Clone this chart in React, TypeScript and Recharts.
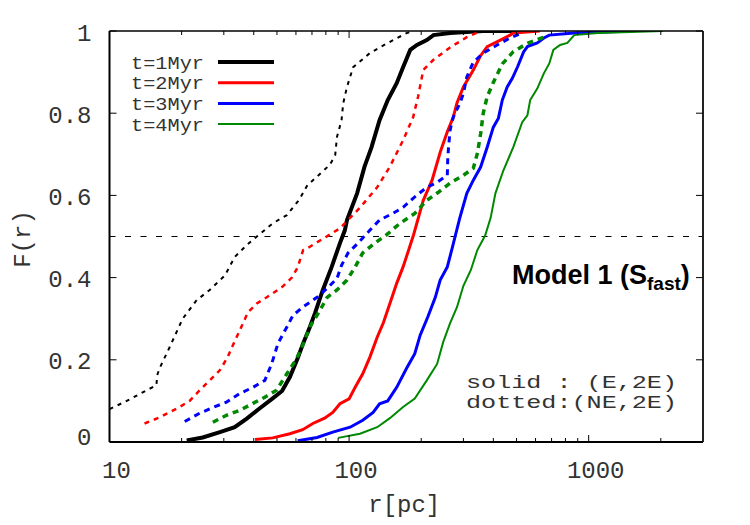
import React from 'react';
import { LineChart, Line, XAxis, YAxis, ReferenceLine, Legend, Customized } from 'recharts';

type P = [number, number];

// t=1Myr, solid (E,2E)
const t1E: P[] = [[21,0.004],[24.5,0.011],[28.9,0.024],[33.3,0.036],[37.4,0.057],[42.4,0.082],[48,0.106],[52.5,0.124],[56.6,0.158],[61,0.204],[64.3,0.24],[68.6,0.28],[72,0.313],[77.7,0.37],[84.6,0.426],[91.6,0.484],[96,0.515],[98,0.54],[108,0.605],[116,0.67],[124,0.717],[134,0.783],[145,0.832],[158,0.873],[168,0.912],[180,0.954],[192,0.966],[211,0.978],[225,0.99],[264,0.995],[363,1.0],[528,1.0]];
// t=2Myr, solid
const t2E: P[] = [[40.5,0.006],[48,0.01],[56.6,0.02],[64,0.03],[70.6,0.045],[79,0.058],[85.5,0.072],[91.6,0.093],[100,0.105],[106,0.133],[114,0.166],[122,0.206],[131,0.255],[139,0.29],[148,0.337],[158,0.386],[168,0.426],[177,0.466],[186,0.505],[204,0.588],[222,0.637],[240,0.705],[257,0.755],[272,0.79],[282,0.825],[300,0.864],[330,0.905],[354,0.94],[377,0.962],[428,0.978],[470,0.99],[485,0.995],[625,1.0]];
// t=3Myr, solid
const t3E: P[] = [[61,0.003],[73.5,0.011],[85.5,0.024],[101,0.036],[114,0.053],[126,0.072],[134,0.093],[145,0.1],[158,0.133],[174,0.18],[188,0.215],[198,0.26],[213,0.304],[229,0.352],[240,0.394],[257,0.426],[270,0.474],[277,0.5],[290,0.546],[310,0.605],[330,0.637],[354,0.669],[377,0.717],[400,0.766],[420,0.788],[436,0.832],[457,0.864],[480,0.885],[505,0.913],[535,0.949],[555,0.962],[610,0.971],[650,0.983],[685,0.99],[870,0.995],[1540,1.0]];
// t=4Myr, solid
const t4E: P[] = [[90,0.01],[111,0.02],[131,0.036],[148,0.058],[168,0.085],[188,0.106],[211,0.15],[233,0.19],[247,0.243],[264,0.289],[282,0.328],[300,0.38],[322,0.418],[343,0.467],[370,0.503],[390,0.546],[408,0.605],[440,0.66],[485,0.718],[528,0.778],[555,0.795],[570,0.832],[610,0.86],[650,0.897],[685,0.921],[712,0.954],[760,0.966],[815,0.971],[870,0.99],[1090,0.995],[2040,1.0]];

// t=1Myr, dotted (NE,2E)
const t1NE: P[] = [[10,0.08],[11.8,0.1],[14.3,0.126],[15.7,0.138],[15.8,0.162],[16.2,0.18],[17.8,0.23],[20.2,0.3],[23.1,0.345],[26.2,0.37],[30.3,0.405],[33.3,0.45],[37.5,0.48],[41.2,0.5],[48,0.532],[55,0.552],[62,0.59],[67,0.625],[71,0.638],[83,0.674],[87.5,0.698],[89,0.742],[93,0.783],[94.5,0.824],[98,0.864],[104,0.912],[122,0.946],[144,0.97],[174,0.995],[185,1.0]];
// t=2Myr, dotted
const t2NE: P[] = [[14,0.045],[16.2,0.06],[19.6,0.085],[21.6,0.1],[23.8,0.126],[26.2,0.15],[28.9,0.175],[31.1,0.206],[32.7,0.235],[35,0.272],[37.8,0.315],[41.2,0.337],[46.7,0.357],[52.5,0.377],[57.7,0.4],[61,0.425],[64.3,0.467],[68.6,0.475],[91.6,0.52],[111,0.57],[131,0.62],[148,0.67],[168,0.734],[185,0.79],[194,0.84],[204,0.905],[225,0.93],[264,0.96],[310,0.985],[354,1.0]];
// t=3Myr, dotted
const t3NE: P[] = [[20.6,0.05],[23.8,0.07],[27,0.084],[30.8,0.097],[35,0.118],[39.7,0.133],[44.5,0.15],[47.5,0.19],[50.5,0.24],[55,0.28],[58.3,0.308],[64,0.328],[73.5,0.352],[81,0.374],[89,0.398],[93,0.43],[99,0.46],[109,0.484],[122,0.515],[134,0.54],[152,0.556],[168,0.571],[185,0.593],[208,0.617],[233,0.632],[257,0.649],[258,0.686],[260,0.717],[264,0.759],[272,0.79],[290,0.824],[300,0.848],[310,0.888],[330,0.924],[363,0.946],[415,0.966],[470,0.983],[528,0.995]];
// t=4Myr, dotted
const t4NE: P[] = [[27,0.048],[30.8,0.065],[35,0.077],[39.7,0.094],[44.5,0.109],[49.8,0.126],[55,0.166],[60.4,0.203],[64,0.235],[68.6,0.28],[75.5,0.32],[81,0.352],[89,0.37],[98,0.394],[106,0.426],[114,0.46],[128,0.484],[144,0.505],[163,0.532],[188,0.556],[211,0.588],[235,0.607],[264,0.63],[300,0.649],[330,0.666],[343,0.702],[354,0.75],[363,0.8],[377,0.84],[400,0.875],[436,0.92],[485,0.95],[555,0.97],[650,0.985],[660,0.99]];

const xTicks = [10,20,30,40,50,60,70,80,90,100,200,300,400,500,600,700,800,900,1000,2000];
const xMajor = [10, 100, 1000];
const yTicks = [0, 0.2, 0.4, 0.6, 0.8, 1];
const yLabels = ['0', '0.2', '0.4', '0.6', '0.8', '1'];

const series = [
  { name: 't=1Myr', data: t1E, color: '#000000', width: 4, dash: undefined as string | undefined, legend: true },
  { name: 't=2Myr', data: t2E, color: '#ff0000', width: 3, dash: undefined, legend: true },
  { name: 't=3Myr', data: t3E, color: '#0000ff', width: 3, dash: undefined, legend: true },
  { name: 't=4Myr', data: t4E, color: '#008800', width: 2, dash: undefined, legend: true },
  { name: 't=1Myr NE', data: t1NE, color: '#000000', width: 2, dash: '4 5', legend: false },
  { name: 't=2Myr NE', data: t2NE, color: '#ff0000', width: 2.5, dash: '5 5', legend: false },
  { name: 't=3Myr NE', data: t3NE, color: '#0000ff', width: 3, dash: '6 5', legend: false },
  { name: 't=4Myr NE', data: t4NE, color: '#008800', width: 3.5, dash: '6 5', legend: false },
];

const MONO = '"Liberation Mono", "DejaVu Sans Mono", monospace';
const SANS = '"Liberation Sans", Arial, sans-serif';
const TXT = '#333333';

const toPts = (d: P[]) => d.map(([r, F]) => ({ r, F }));

const BottomTick = (props: any) => {
  const { x, y, payload } = props;
  const v = payload.value;
  const major = xMajor.includes(v);
  return (
    <g>
      <line x1={x} x2={x} y1={y} y2={y - (major ? 7 : 4)} stroke="#000" strokeWidth={1} />
      {major && (
        <text x={x + 7} y={y + 35.5} textAnchor="middle" fontFamily={MONO} fontSize={24} fill={TXT}>{String(v)}</text>
      )}
    </g>
  );
};

const TopTick = (props: any) => {
  const { x, y, payload } = props;
  const major = xMajor.includes(payload.value);
  return <line x1={x} x2={x} y1={y} y2={y + (major ? 7 : 4)} stroke="#000" strokeWidth={1} />;
};

const LeftTick = (props: any) => {
  const { x, y, payload, index } = props;
  const v = payload.value;
  const label = yLabels[yTicks.indexOf(v)] ?? yLabels[index];
  return (
    <g>
      <line x1={x} x2={x + 7} y1={y} y2={y} stroke="#000" strokeWidth={1} />
      <text x={x - 18} y={y + (v === 0 ? 2.5 : 9.5)} textAnchor="end" fontFamily={MONO} fontSize={24} fill={TXT}>{label}</text>
    </g>
  );
};

const RightTick = (props: any) => {
  const { x, y } = props;
  return <line x1={x} x2={x - 7} y1={y} y2={y} stroke="#000" strokeWidth={1} />;
};

const renderLegend = (props: any) => {
  const items = (props.payload || []).filter((p: any) => series.some((s) => s.legend && s.name === p.value));
  return (
    <svg width={170} height={95} style={{ display: 'block' }}>
      {items.map((p: any, i: number) => {
        const s = series.find((q) => q.name === p.value)!;
        const cy = 17 + i * 20.7;
        return (
          <g key={p.value}>
            <text x={11} y={cy + 6.5} fontFamily={MONO} fontSize={18} textLength={73} lengthAdjust="spacingAndGlyphs" fill={TXT}>{p.value}</text>
            <line x1={98} x2={154} y1={cy} y2={cy} stroke={s.color} strokeWidth={s.width} />
          </g>
        );
      })}
    </svg>
  );
};

const Annotations = () => (
  <g>
    <text x={512} y={284} fontFamily={SANS} fontWeight="bold" fontSize={27} fill="#000">
      Model 1 (S
      <tspan fontSize={19} dy={6}>fast</tspan>
      <tspan dy={-6}>)</tspan>
    </text>
    <text x={466} y={388} fontFamily={MONO} fontSize={17.5} textLength={211} lengthAdjust="spacingAndGlyphs" fill={TXT} style={{ whiteSpace: 'pre' }}>solid : (E,2E)</text>
    <text x={466} y={408} fontFamily={MONO} fontSize={17.5} textLength={211} lengthAdjust="spacingAndGlyphs" fill={TXT} style={{ whiteSpace: 'pre' }}>dotted:(NE,2E)</text>
  </g>
);

export default function App() {
  return (
    <div style={{ position: 'absolute', left: 0, top: 0, width: 750, height: 525, background: '#fff' }}>
      <LineChart width={750} height={525} margin={{ top: 21, right: 37, bottom: 23, left: 9.5 }}>
        <XAxis
          xAxisId="b"
          dataKey="r"
          type="number"
          scale="log"
          domain={[10, 3000]}
          allowDataOverflow
          ticks={xTicks}
          interval={0}
          tickSize={0}
          tickMargin={0}
          tickLine={false}
          tick={BottomTick}
          height={60}
          axisLine={{ stroke: '#000', strokeWidth: 2 }}
          label={{
            value: 'r[pc]',
            content: (p: any) => {
              const vb = p.viewBox || { x: 109.5, y: 442, width: 593.5 };
              return (
                <text x={vb.x + vb.width / 2 - 2} y={vb.y + 70} textAnchor="middle" fontFamily={MONO} fontSize={24} fill={TXT}>r[pc]</text>
              );
            },
          }}
        />
        <XAxis
          xAxisId="t"
          dataKey="r"
          orientation="top"
          type="number"
          scale="log"
          domain={[10, 3000]}
          allowDataOverflow
          ticks={xTicks}
          interval={0}
          tickSize={0}
          tickMargin={0}
          tickLine={false}
          tick={TopTick}
          height={10}
          axisLine={{ stroke: '#000', strokeWidth: 1.5 }}
        />
        <YAxis
          yAxisId="l"
          type="number"
          domain={[0, 1]}
          allowDataOverflow
          ticks={yTicks}
          interval={0}
          tickSize={0}
          tickMargin={0}
          tickLine={false}
          tick={LeftTick}
          width={100}
          axisLine={{ stroke: '#000', strokeWidth: 2 }}
          label={{
            value: 'F(r)',
            content: (p: any) => {
              const vb = p.viewBox || { x: 9.5, y: 31, height: 411 };
              const cx = vb.x + 20.5;
              const cy = vb.y + vb.height / 2 + 2.5;
              return (
                <text x={cx} y={cy} transform={`rotate(-90, ${cx}, ${cy})`} textAnchor="middle" fontFamily={MONO} fontSize={24} fill={TXT}>F(r)</text>
              );
            },
          }}
        />
        <YAxis
          yAxisId="r"
          orientation="right"
          type="number"
          domain={[0, 1]}
          allowDataOverflow
          ticks={yTicks}
          interval={0}
          tickSize={0}
          tickMargin={0}
          tickLine={false}
          tick={RightTick}
          width={10}
          axisLine={{ stroke: '#222', strokeWidth: 2 }}
        />
        <ReferenceLine xAxisId="b" yAxisId="l" y={0.5} stroke="#000" strokeWidth={1} strokeDasharray="6 9.5" />
        {series.map((s) => (
          <Line
            key={s.name}
            xAxisId="b"
            yAxisId="l"
            name={s.name}
            data={toPts(s.data)}
            dataKey="F"
            type="linear"
            stroke={s.color}
            strokeWidth={s.width}
            strokeDasharray={s.dash}
            dot={false}
            activeDot={false}
            legendType={s.legend ? 'line' : 'none'}
            isAnimationActive={false}
          />
        ))}
        <Legend
          layout="horizontal"
          verticalAlign="middle"
          align="center"
          content={renderLegend}
          wrapperStyle={{ position: 'absolute', left: 120, top: 45, width: 170, height: 95 }}
        />
        <Customized component={Annotations} />
      </LineChart>
    </div>
  );
}
